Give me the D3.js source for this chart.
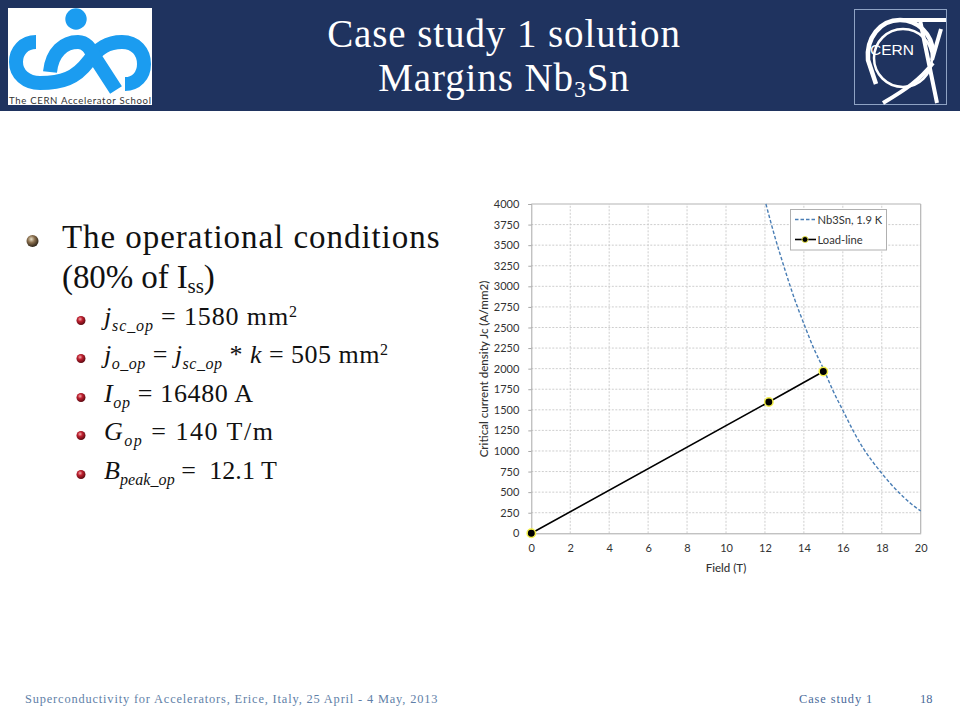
<!DOCTYPE html>
<html><head><meta charset="utf-8">
<script src="https://cdn.jsdelivr.net/npm/d3@7"></script>
<style>
html,body{margin:0;padding:0;background:#fff;overflow:hidden}
svg{display:block}
.s{font-family:"Liberation Serif",serif}
.c{font-family:Lato,"Open Sans",sans-serif}
</style></head><body>
<svg id="c" width="960" height="720"></svg>
<script>
const fieldTicks = [0,2,4,6,8,10,12,14,16,18,20];
const jcTicks = [0,250,500,750,1000,1250,1500,1750,2000,2250,2500,2750,3000,3250,3500,3750,4000];
const curveField = [12.05,12.5,12.95,13.5,14.06,14.5,15,15.5,16.03,16.5,17.05,17.5,18,18.5,19.1,19.5,20];
const curveJc = [4000,3610,3260,2860,2510,2250,2000,1730,1480,1260,1032,880,729,590,445,360,271];
const loadField = [0,12.2,15];
const loadJc = [0,1595,1965];
const legendLabels = ["Nb3Sn, 1.9 K","Load-line"];
const xTitle = "Field (T)", yTitle = "Critical current density Jc (A/mm2)";

const svg = d3.select("#c");
const defs = svg.append("defs");
function ball(id, stops){
  const g = defs.append("radialGradient").attr("id",id).attr("cx","40%").attr("cy","35%").attr("r","65%");
  stops.forEach(([o,c])=>g.append("stop").attr("offset",o).attr("stop-color",c));
}
ball("bigBall",[["0%","#e8dfc8"],["45%","#8a6f4e"],["100%","#2e2418"]]);
ball("redBall",[["0%","#f0b0b0"],["40%","#c02030"],["100%","#5c0a12"]]);

// Header
svg.append("rect").attr("width",960).attr("height",111).attr("fill","#1f335f");
svg.append("text").attr("class","s").attr("x",504).attr("y",47).attr("text-anchor","middle")
  .attr("font-size",39).attr("letter-spacing",0.9).attr("fill","#fff").text("Case study 1 solution");
const t2 = svg.append("text").attr("class","s").attr("x",504).attr("y",91).attr("text-anchor","middle")
  .attr("font-size",39).attr("letter-spacing",0.9).attr("fill","#fff");
t2.append("tspan").text("Margins Nb");
t2.append("tspan").attr("font-size",24).attr("dy",6).text("3");
t2.append("tspan").attr("dy",-6).text("Sn");

// CAS logo
const cas = svg.append("g");
cas.append("rect").attr("x",8).attr("y",8).attr("width",144).attr("height",97).attr("fill","#fff");
const blue="#1b9cf0";
cas.append("circle").attr("cx",76).attr("cy",19).attr("r",10.7).attr("fill",blue);
cas.append("path").attr("fill","none").attr("stroke",blue).attr("stroke-width",14)
  .attr("d","M36 42 C24 42 16 51 16 62 C16 74 26 83 40 83 C62 83 76 78 88 62 C98 48 108 42 122 42 C136 42 144 52 144 64 C144 76 136 84 125 84");
cas.append("path").attr("fill","none").attr("stroke",blue).attr("stroke-width",14)
  .attr("d","M50 72 C52 52 64 42 78 42 C86 42 90 48 94 56 L116 90");
cas.append("text").attr("x",9).attr("y",104).attr("font-family","Lato,sans-serif").attr("font-size",9.6)
  .attr("fill","#333").attr("textLength",142).text("The CERN Accelerator School");
cas.append("rect").attr("x",8).attr("y",90).attr("width",144).attr("height",0).attr("fill","#fff");

// CERN logo
const ce = svg.append("g");
ce.append("rect").attr("x",854.5).attr("y",9.5).attr("width",92).attr("height",95).attr("fill","none").attr("stroke","#8fa3c4").attr("stroke-width",1);
ce.append("path").attr("fill","none").attr("stroke","#fff").attr("stroke-width",4.5)
  .attr("d","M876 84 L868 60 C866 38 880 20 900 20 C918 20 932 34 933 52");
ce.append("circle").attr("cx",903).attr("cy",58).attr("r",29).attr("fill","none").attr("stroke","#fff").attr("stroke-width",2.5);
ce.append("path").attr("fill","none").attr("stroke","#fff").attr("stroke-width",4)
  .attr("d","M897 20 L946 20 M920 20 L937 103 M941 29 L932 60 M933 63 C920 80 905 90 883 103");
ce.append("text").attr("x",870).attr("y",55).attr("font-family","Liberation Sans,sans-serif").attr("font-size",15.5).attr("fill","#fff").text("CERN");

// Bullets
svg.append("circle").attr("cx",32.5).attr("cy",241).attr("r",6).attr("fill","url(#bigBall)");
svg.append("text").attr("class","s").attr("x",62).attr("y",248).attr("font-size",33).attr("letter-spacing",0.95).attr("fill","#111").text("The operational conditions");
const big2 = svg.append("text").attr("class","s").attr("x",62).attr("y",288).attr("font-size",33).attr("letter-spacing",-0.1).attr("fill","#111");
big2.append("tspan").text("(80% of I");
big2.append("tspan").attr("font-size",21).attr("dy",5).text("ss");
big2.append("tspan").attr("dy",-5).text(")");

const items = [
 {y:325,len:193,parts:[["j","i"],["sc_op","si"],[" = 1580 mm",""],["2","u"]]},
 {y:363,len:284,parts:[["j","i"],["o_op","si"],[" = ",""],["j","i"],["sc_op","si"],[" * ",""],["k","i"],[" = 505 mm",""],["2","u"]]},
 {y:402,len:149,parts:[["I","i"],["op","si"],[" = 16480 A",""]]},
 {y:440,len:169,parts:[["G","i"],["op","si"],[" = 140 T/m",""]]},
 {y:479,len:173,parts:[["B","i"],["peak_op","si"],[" =  12.1 T",""]]}
];
items.forEach(it=>{
  svg.append("circle").attr("cx",81).attr("cy",it.y-4.5).attr("r",4.5).attr("fill","url(#redBall)");
  const t = svg.append("text").attr("class","s").attr("x",104).attr("y",it.y).attr("font-size",26).attr("fill","#111")
    .attr("textLength",it.len).attr("lengthAdjust","spacing");
  let cur=0;
  it.parts.forEach(([s,k])=>{
    const target = k==="si"?6:(k==="u"?-8:0);
    const sp = t.append("tspan").attr("dy",target-cur).text(s).attr("xml:space","preserve");
    cur=target;
    if(k==="i") sp.attr("font-style","italic");
    if(k==="si") sp.attr("font-style","italic").attr("font-size",16);
    if(k==="u") sp.attr("font-size",16);
  });
});

// Footer
svg.append("text").attr("class","s").attr("x",25).attr("y",703).attr("font-size",12.4).attr("letter-spacing",0.83).attr("fill","#5f7fa8")
  .text("Superconductivity for Accelerators, Erice, Italy, 25 April - 4 May, 2013");
svg.append("text").attr("class","s").attr("x",799).attr("y",703).attr("font-size",12.4).attr("letter-spacing",0.9).attr("fill","#4a6a9a").text("Case study 1");
svg.append("text").attr("class","s").attr("x",920).attr("y",703).attr("font-size",12.4).attr("fill","#4a6a9a").text("18");

// Chart
const x = d3.scaleLinear().domain([0,20]).range([531.3,920.7]);
const y = d3.scaleLinear().domain([0,4000]).range([533.3,204]);
const g = svg.append("g").attr("class","c");
const grid="#c8c8c8";
g.append("g").selectAll("line").data(fieldTicks.slice(1,-1)).join("line")
  .attr("x1",d=>x(d)).attr("x2",d=>x(d)).attr("y1",y(0)).attr("y2",y(4000))
  .attr("stroke",grid).attr("stroke-dasharray","2 1.5").attr("stroke-width",0.9);
g.append("g").selectAll("line").data(jcTicks.slice(1,-1)).join("line")
  .attr("x1",x(0)).attr("x2",x(20)).attr("y1",d=>y(d)).attr("y2",d=>y(d))
  .attr("stroke",grid).attr("stroke-dasharray","2 1.5").attr("stroke-width",0.9);

const ax = g.append("g").attr("transform",`translate(0,${y(0)})`).call(d3.axisBottom(x).tickValues(fieldTicks).tickFormat(d3.format("d")).tickSize(0).tickPadding(11));
const ay = g.append("g").attr("transform",`translate(${x(0)},0)`).call(d3.axisLeft(y).tickValues(jcTicks).tickFormat(d3.format("d")).tickSize(3).tickPadding(9));
[ax,ay].forEach(a=>{
  a.selectAll("path,line").attr("stroke","#a8a8a8");
  a.selectAll("text").attr("font-family","Lato,sans-serif").attr("font-size",11).attr("fill","#333");
});
g.append("line").attr("x1",x(0)).attr("x2",x(20)).attr("y1",y(4000)).attr("y2",y(4000)).attr("stroke","#b4b4b4").attr("stroke-width",1.2);
g.append("line").attr("x1",x(20)).attr("x2",x(20)).attr("y1",y(4000)).attr("y2",y(0)).attr("stroke","#b4b4b4").attr("stroke-width",1.2);

g.append("text").attr("x",726).attr("y",572).attr("text-anchor","middle")
  .attr("font-size",11.5).attr("font-weight",500).attr("fill","#333").text(xTitle);
g.append("text").attr("transform","translate(488,369) rotate(-90)").attr("text-anchor","middle")
  .attr("font-size",11.6).attr("font-weight",500).attr("fill","#333").text(yTitle);

const curve = d3.line().x((d,i)=>x(curveField[i])).y(d=>y(d)).curve(d3.curveMonotoneX);
g.append("path").attr("d",curve(curveJc)).attr("fill","none").attr("stroke","#4a7eb5").attr("stroke-width",1.4).attr("stroke-dasharray","3.5 2");
const load = d3.line().x((d,i)=>x(loadField[i])).y(d=>y(d));
g.append("path").attr("d",load(loadJc)).attr("fill","none").attr("stroke","#000").attr("stroke-width",1.6);
g.append("g").selectAll("circle").data(loadJc).join("circle")
  .attr("cx",(d,i)=>x(loadField[i])).attr("cy",d=>y(d)).attr("r",4.2)
  .attr("fill","#000").attr("stroke","#f4f04a").attr("stroke-width",1.5);

// Legend
const lg = g.append("g");
lg.append("rect").attr("x",790.5).attr("y",209.5).attr("width",96).attr("height",40.5).attr("fill","#fff").attr("stroke","#b0b0b0");
lg.append("line").attr("x1",795).attr("x2",816).attr("y1",219.5).attr("y2",219.5).attr("stroke","#4a7eb5").attr("stroke-width",1.4).attr("stroke-dasharray","3.5 2");
lg.append("line").attr("x1",795).attr("x2",816).attr("y1",239.5).attr("y2",239.5).attr("stroke","#000").attr("stroke-width",1.6);
lg.append("circle").attr("cx",805).attr("cy",239.5).attr("r",3).attr("fill","#000").attr("stroke","#f4f04a").attr("stroke-width",0.9);
lg.selectAll("text").data(legendLabels).join("text").attr("x",817.5).attr("y",(d,i)=>223.5+i*20)
  .attr("font-size",11.2).attr("fill","#333").text(d=>d);
</script>
</body></html>
